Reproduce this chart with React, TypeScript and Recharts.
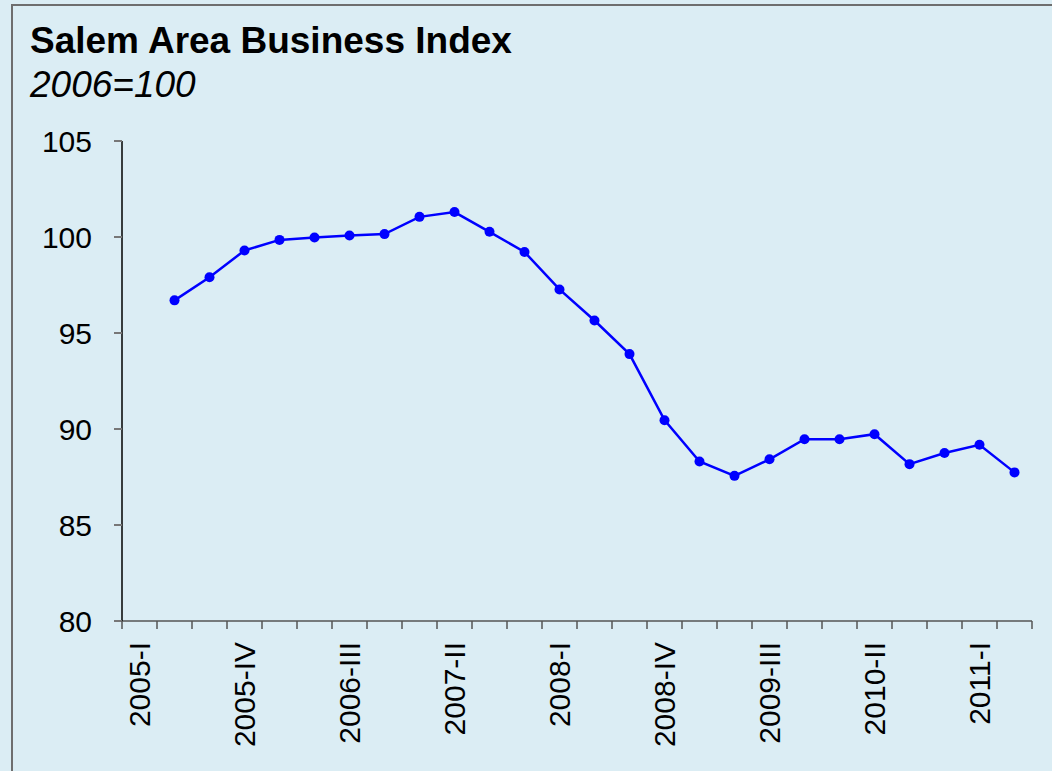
import { LineChart, Line, XAxis, YAxis } from "recharts";

const quarters = [
  "2005-I", "2005-II", "2005-III", "2005-IV",
  "2006-I", "2006-II", "2006-III", "2006-IV",
  "2007-I", "2007-II", "2007-III", "2007-IV",
  "2008-I", "2008-II", "2008-III", "2008-IV",
  "2009-I", "2009-II", "2009-III", "2009-IV",
  "2010-I", "2010-II", "2010-III", "2010-IV",
  "2011-I", "2011-II",
];

const indexValues: (number | null)[] = [
  null, 96.7, 97.9, 99.3,
  99.85, 99.97, 100.08, 100.15,
  101.05, 101.3, 100.27, 99.22,
  97.27, 95.65, 93.9, 90.46,
  88.31, 87.56, 88.42, 89.47,
  89.47, 89.73, 88.17, 88.75,
  89.18, 87.74,
];

const yTicks = [80, 85, 90, 95, 100, 105];

const data = quarters.map((q, i) => ({ quarter: q, value: indexValues[i] }));

const W = 1052;
const H = 771;
const M = { top: 141, right: 20, bottom: 0, left: 0 };
const X_AXIS_H = 150;
const Y_AXIS_W = 122;
const TICK_SIZE = 8;
const TICK_MARGIN = 13;
const halfBand = (W - M.right - Y_AXIS_W) / quarters.length / 2;

function QuarterTick(props: any) {
  const { x, y, payload, index } = props;
  const axisY = y - TICK_SIZE - TICK_MARGIN;
  const showLabel = index % 3 === 0;
  const isLast = index === quarters.length - 1;
  return (
    <g>
      <line x1={x - halfBand} x2={x - halfBand} y1={axisY} y2={axisY + TICK_SIZE} stroke="#555" strokeWidth={1.5} />
      {isLast && (
        <line x1={x + halfBand} x2={x + halfBand} y1={axisY} y2={axisY + TICK_SIZE} stroke="#555" strokeWidth={1.5} />
      )}
      {showLabel && (
        <text
          x={x}
          y={y}
          dy="0.35em"
          textAnchor="end"
          transform={`rotate(-90, ${x}, ${y})`}
          fontSize={30}
          fill="#000"
          fontFamily="'Liberation Sans', Arial, sans-serif"
        >
          {payload.value}
        </text>
      )}
    </g>
  );
}

export default function App() {
  return (
    <div style={{ position: "absolute", left: 0, top: 0, width: W, height: H, background: "#dbedf4", overflow: "hidden" }}>
      <div
        style={{
          position: "absolute",
          left: 11,
          top: 4,
          width: W,
          height: H + 20,
          border: "2px solid #6e6e6e",
          background: "#dbedf4",
        }}
      />
      <div
        style={{
          position: "absolute",
          left: 30,
          top: 22,
          fontFamily: "'Liberation Sans', Arial, sans-serif",
          fontWeight: "bold",
          fontSize: 37,
          lineHeight: 1,
          whiteSpace: "nowrap",
        }}
      >
        Salem Area Business Index
      </div>
      <div
        style={{
          position: "absolute",
          left: 30,
          top: 66,
          fontFamily: "'Liberation Sans', Arial, sans-serif",
          fontStyle: "italic",
          fontSize: 37,
          lineHeight: 1,
          whiteSpace: "nowrap",
        }}
      >
        2006=100
      </div>
      <div style={{ position: "absolute", left: 0, top: 0 }}>
        <LineChart width={W} height={H} data={data} margin={M}>
          <XAxis
            dataKey="quarter"
            scale="band"
            interval={0}
            tick={<QuarterTick />}
            tickLine={false}
            tickSize={TICK_SIZE}
            tickMargin={TICK_MARGIN}
            axisLine={{ stroke: "#555", strokeWidth: 1.5 }}
            height={X_AXIS_H}
          />
          <YAxis
            width={Y_AXIS_W}
            domain={[80, 105]}
            ticks={yTicks}
            interval={0}
            tickSize={TICK_SIZE}
            tickMargin={22}
            tickLine={{ stroke: "#777", strokeWidth: 2 }}
            axisLine={{ stroke: "#000", strokeWidth: 1.5 }}
            tick={{ fontSize: 30, fill: "#000", fontFamily: "'Liberation Sans', Arial, sans-serif" }}
          />
          <Line
            type="linear"
            dataKey="value"
            stroke="#0000ff"
            strokeWidth={2.5}
            dot={{ r: 5, fill: "#0000ff", stroke: "#0000ff", strokeWidth: 0 }}
            activeDot={false}
            connectNulls={false}
            isAnimationActive={false}
          />
        </LineChart>
      </div>
    </div>
  );
}
